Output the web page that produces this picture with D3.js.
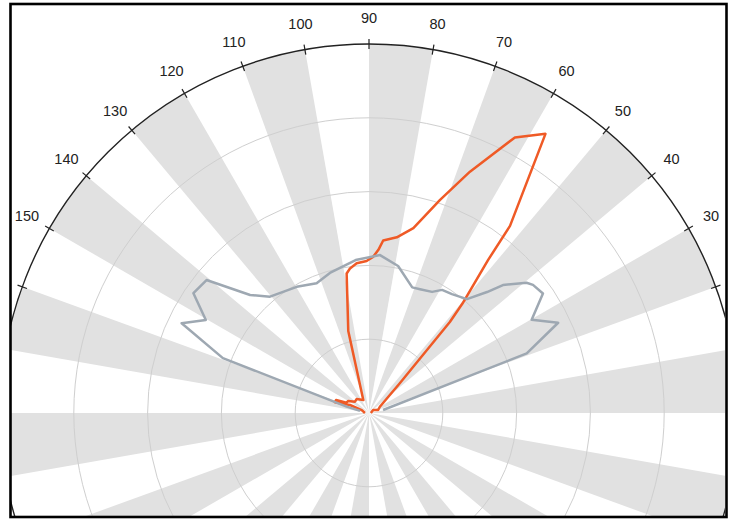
<!DOCTYPE html>
<html><head><meta charset="utf-8">
<script src="https://cdn.jsdelivr.net/npm/d3@7"></script>
<style>body{margin:0;background:#fff}svg{display:block}</style>
</head><body>
<svg id="chart" width="735" height="520"></svg>
<script>
// Data (angle in degrees, value on 0..100 radial scale)
const orangeAngles = [0, 37, 18, 30, 44, 48.4, 49.5, 52.1, 53, 57.7, 62.1, 67.3, 71.6, 76.5, 81, 85.3, 86.7, 88.4, 90.9, 94.7, 97.5, 99.1, 104.2, 113.7, 131.3, 141.1, 149.9, 155.2, 158.5, 162.5, 157.2, 157.7, 180];
const orangeValues = [0.5, 1.4, 2.6, 3.4, 11.6, 33, 39, 52.5, 63.5, 89.5, 84.5, 70.9, 60.8, 51.5, 48.2, 46.9, 44.3, 42.4, 41.2, 40.7, 39.5, 38.3, 22.9, 3.85, 5.05, 4.88, 6.5, 6.7, 9.6, 9.7, 5.6, 2.1, 1.1];
const grayAngles = [12, 20.7, 25.5, 29.8, 34.5, 38, 39.6, 43.7, 45.7, 49.3, 55.1, 59.3, 62.5, 67.6, 71, 78.8, 86, 95, 105.6, 112, 119.8, 130.4, 135.2, 140.7, 145.7, 150.3, 154.4, 159.4, 164, 167];
const grayValues = [3.9, 45.7, 56.8, 50.8, 57.2, 56.4, 55.4, 50.2, 45.8, 40.7, 39.3, 38.8, 37, 36.3, 36, 40.6, 42.9, 41.6, 39.4, 37.9, 39.4, 41.4, 45.4, 56.9, 57.6, 50.9, 56.3, 42.3, 6.3, 2.5];
const gridValues = [20, 40, 60, 80];
const outerValue = 100;
const tickAngles = d3.range(0, 360, 10);
const tickLabels = [30, 40, 50, 60, 70, 80, 90, 100, 110, 120, 130, 140, 150];
const bandStarts = d3.range(0, 360, 20);

const cx = 369, cy = 413, R = 369;
const svg = d3.select('#chart');
const r = d3.scaleLinear().domain([0, 100]).range([0, R]);
const ang = d3.scaleLinear().domain([0, 360]).range([Math.PI / 2, Math.PI / 2 - 2 * Math.PI]); // math degrees -> d3 radians

svg.append('rect').attr('width', 735).attr('height', 520).attr('fill', '#fff');
svg.append('clipPath').attr('id', 'clip').append('rect')
  .attr('x', 11).attr('y', 5).attr('width', 714).attr('height', 511);

const g = svg.append('g').attr('clip-path', 'url(#clip)')
  .append('g').attr('transform', `translate(${cx},${cy})`);

// Bands
const arc = d3.arc().innerRadius(0).outerRadius(r(outerValue));
g.selectAll('path.band').data(bandStarts).join('path')
  .attr('class', 'band')
  .attr('d', d => arc({startAngle: ang(d + 10), endAngle: ang(d)}))
  .attr('fill', '#e1e1e1');

// Grid circles
g.selectAll('circle.grid').data(gridValues).join('circle')
  .attr('class', 'grid').attr('r', d => r(d))
  .attr('fill', 'none').attr('stroke', '#cfcfcf').attr('stroke-width', 1);

// Outer circle
g.append('circle').attr('r', r(outerValue)).attr('fill', 'none')
  .attr('stroke', '#222').attr('stroke-width', 1.4);

// Ticks
const px = (deg, rr) => rr * Math.sin(ang(deg));
const py = (deg, rr) => -rr * Math.cos(ang(deg));
g.selectAll('line.tick').data(tickAngles).join('line')
  .attr('class', 'tick')
  .attr('x1', d => px(d, r(outerValue) - 5)).attr('y1', d => py(d, r(outerValue) - 5))
  .attr('x2', d => px(d, r(outerValue) + 5)).attr('y2', d => py(d, r(outerValue) + 5))
  .attr('stroke', '#222').attr('stroke-width', 1.2);

// Labels
g.selectAll('text.lbl').data(tickLabels).join('text')
  .attr('class', 'lbl')
  .attr('x', d => px(d, r(outerValue) + 26)).attr('y', d => py(d, r(outerValue) + 26))
  .attr('dy', '0.36em').attr('text-anchor', 'middle')
  .attr('font-family', 'Liberation Sans, Arial, sans-serif').attr('font-size', 14.5)
  .attr('fill', '#222').text(d => d);

// Lines
const line = d3.lineRadial().angle(d => ang(d[0])).radius(d => r(d[1]));
const orange = orangeAngles.map((a, i) => [a, orangeValues[i]]);
const gray = grayAngles.map((a, i) => [a, grayValues[i]]);
g.append('path').attr('d', line(orange)).attr('fill', 'none')
  .attr('stroke', '#ef5a26').attr('stroke-width', 2.5).attr('stroke-linejoin', 'round');
g.append('path').attr('d', line(gray)).attr('fill', 'none')
  .attr('stroke', '#9ea8b2').attr('stroke-width', 2.5).attr('stroke-linejoin', 'round');

// Frame
svg.append('rect').attr('x', 10.5).attr('y', 4).attr('width', 716).attr('height', 513)
  .attr('fill', 'none').attr('stroke', '#000').attr('stroke-width', 2.6);
</script>
</body></html>
